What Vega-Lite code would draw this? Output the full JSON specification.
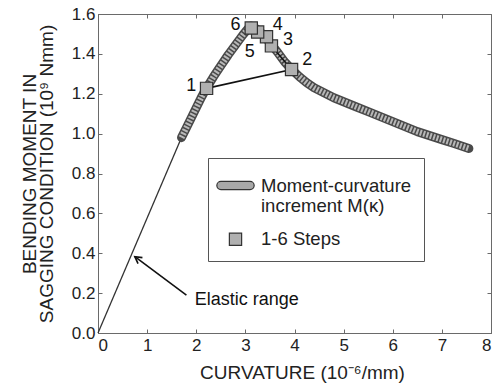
{
  "$schema": "https://vega.github.io/schema/vega-lite/v6.json",
  "width": 393,
  "height": 319,
  "autosize": {"type": "none"},
  "padding": {"left": 98, "top": 14, "right": 3, "bottom": 51},
  "background": "white",
  "config": {
    "font": "Liberation Sans",
    "view": {"stroke": "#6a6a6a", "strokeWidth": 1},
    "axis": {
      "grid": false,
      "domainColor": "#6a6a6a",
      "tickColor": "#6a6a6a",
      "labelColor": "#222",
      "titleColor": "#222",
      "labelFontSize": 17,
      "titleFontSize": 19,
      "titleFontWeight": "normal",
      "labelFont": "Liberation Sans",
      "titleFont": "Liberation Sans"
    },
    "legend": {
      "orient": "none",
      "legendX": 110,
      "legendY": 144,
      "strokeColor": "#555",
      "fillColor": "white",
      "padding": 12,
      "labelFontSize": 18.5,
      "labelFont": "Liberation Sans",
      "labelColor": "#222",
      "labelOffset": 10,
      "rowPadding": 14,
      "symbolStrokeWidth": 1.2
    }
  },
  "datasets": {
    "elastic": [{"k": 0, "m": 0}, {"k": 1.7, "m": 0.98}],
    "curve": [
      {"k": 1.70, "m": 0.98}, {"k": 1.80, "m": 1.03}, {"k": 1.90, "m": 1.08}, {"k": 2.00, "m": 1.13},
      {"k": 2.10, "m": 1.18}, {"k": 2.20, "m": 1.225}, {"k": 2.35, "m": 1.285}, {"k": 2.50, "m": 1.34},
      {"k": 2.65, "m": 1.395}, {"k": 2.80, "m": 1.445}, {"k": 2.95, "m": 1.495}, {"k": 3.05, "m": 1.525},
      {"k": 3.12, "m": 1.54}, {"k": 3.20, "m": 1.53}, {"k": 3.35, "m": 1.50}, {"k": 3.50, "m": 1.455},
      {"k": 3.65, "m": 1.41}, {"k": 3.80, "m": 1.36}, {"k": 3.95, "m": 1.32}, {"k": 4.10, "m": 1.285},
      {"k": 4.25, "m": 1.255}, {"k": 4.40, "m": 1.23}, {"k": 4.60, "m": 1.205}, {"k": 4.80, "m": 1.18},
      {"k": 5.00, "m": 1.16}, {"k": 5.25, "m": 1.135}, {"k": 5.50, "m": 1.11}, {"k": 5.75, "m": 1.085},
      {"k": 6.00, "m": 1.06}, {"k": 6.25, "m": 1.035}, {"k": 6.50, "m": 1.01}, {"k": 6.75, "m": 0.99},
      {"k": 7.00, "m": 0.97}, {"k": 7.25, "m": 0.95}, {"k": 7.55, "m": 0.925}
    ],
    "steps": [
      {"step": 1, "k": 2.21, "m": 1.227, "series": "steps"},
      {"step": 2, "k": 3.94, "m": 1.322, "series": "steps"},
      {"step": 3, "k": 3.53, "m": 1.44, "series": "steps"},
      {"step": 4, "k": 3.43, "m": 1.486, "series": "steps"},
      {"step": 5, "k": 3.25, "m": 1.51, "series": "steps"},
      {"step": 6, "k": 3.12, "m": 1.53, "series": "steps"}
    ],
    "labels": [
      {"txt": "1", "k": 1.90, "m": 1.24},
      {"txt": "2", "k": 4.26, "m": 1.37},
      {"txt": "3", "k": 3.87, "m": 1.47},
      {"txt": "4", "k": 3.66, "m": 1.545},
      {"txt": "5", "k": 3.09, "m": 1.41},
      {"txt": "6", "k": 2.80, "m": 1.545}
    ],
    "arrow": [{"k": 1.80, "m": 0.19}, {"k": 0.75, "m": 0.383}],
    "arrowtip": [{"k": 0.75, "m": 0.383}],
    "note": [{"txt": "Elastic range", "k": 1.97, "m": 0.165}]
  },
  "resolve": {"axis": {"x": "independent", "y": "independent"}},
  "layer": [
    {
      "data": {"name": "elastic"},
      "mark": {"type": "line", "color": "#333", "strokeWidth": 1.3},
      "encoding": {
        "x": {"field": "k", "type": "quantitative", "scale": {"domain": [0, 8], "nice": false},
              "axis": {"title": "CURVATURE (10⁻⁶/mm)", "values": [0,1,2,3,4,5,6,7,8], "format": "d", "tickSize": -4, "labelPadding": 8, "titleX": 204, "titleY": 45, "titleBaseline": "alphabetic"}},
        "y": {"field": "m", "type": "quantitative", "scale": {"domain": [0, 1.6], "nice": false},
              "axis": {"title": ["BENDING MOMENT IN", "SAGGING CONDITION (10⁹ Nmm)"], "values": [0,0.2,0.4,0.6,0.8,1.0,1.2,1.4,1.6], "format": ".1f", "tickSize": -4, "labelPadding": 7, "titlePadding": 15, "titleLineHeight": 17}}
      }
    },
    {
      "data": {"name": "elastic"},
      "mark": {"type": "line", "opacity": 0},
      "encoding": {
        "x": {"field": "k", "type": "quantitative", "axis": {"orient": "top", "labels": false, "domain": false, "title": null, "values": [0,1,2,3,4,5,6,7,8], "tickSize": -4}},
        "y": {"field": "m", "type": "quantitative", "axis": {"orient": "right", "labels": false, "domain": false, "title": null, "values": [0,0.2,0.4,0.6,0.8,1.0,1.2,1.4,1.6], "tickSize": -4}}
      }
    },
    {
      "data": {"name": "curve"},
      "mark": {"type": "line", "color": "#4a4a4a", "strokeWidth": 9, "strokeCap": "round", "strokeJoin": "round"},
      "encoding": {
        "x": {"field": "k", "type": "quantitative", "axis": null},
        "y": {"field": "m", "type": "quantitative", "axis": null}
      }
    },
    {
      "data": {"name": "curve"},
      "mark": {"type": "line", "color": "#b8b8b8", "strokeWidth": 6, "strokeDash": [2, 1.5], "strokeJoin": "round"},
      "encoding": {
        "x": {"field": "k", "type": "quantitative", "axis": null},
        "y": {"field": "m", "type": "quantitative", "axis": null}
      }
    },
    {
      "data": {"name": "steps"},
      "mark": {"type": "line", "color": "#111", "strokeWidth": 1.6},
      "encoding": {
        "x": {"field": "k", "type": "quantitative", "axis": null},
        "y": {"field": "m", "type": "quantitative", "axis": null},
        "order": {"field": "step"}
      }
    },
    {
      "data": {"name": "steps"},
      "mark": {"type": "point", "filled": true, "strokeWidth": 1.2, "opacity": 1},
      "encoding": {
        "x": {"field": "k", "type": "quantitative", "axis": null},
        "y": {"field": "m", "type": "quantitative", "axis": null},
        "fill": {"field": "series", "type": "nominal",
                 "scale": {"domain": ["mc", "steps"], "range": ["#a8a8a8", "#b0b0b0"]},
                 "legend": {"title": null, "labelExpr": "datum.value == 'mc' ? ['Moment-curvature', 'increment M(κ)'] : '1-6 Steps'"}},
        "stroke": {"field": "series", "type": "nominal",
                 "scale": {"domain": ["mc", "steps"], "range": ["#333333", "#333333"]},
                 "legend": {"title": null, "labelExpr": "datum.value == 'mc' ? ['Moment-curvature', 'increment M(κ)'] : '1-6 Steps'"}},
        "shape": {"field": "series", "type": "nominal",
                  "scale": {"domain": ["mc", "steps"], "range": ["M -1 -0.28 L 1 -0.28 A 0.28 0.28 0 0 1 1 0.28 L -1 0.28 A 0.28 0.28 0 0 1 -1 -0.28 Z", "square"]},
                  "legend": {"title": null, "labelExpr": "datum.value == 'mc' ? ['Moment-curvature', 'increment M(κ)'] : '1-6 Steps'"}},
        "size": {"field": "series", "type": "nominal",
                 "scale": {"domain": ["mc", "steps"], "range": [850, 150]},
                 "legend": {"title": null, "labelExpr": "datum.value == 'mc' ? ['Moment-curvature', 'increment M(κ)'] : '1-6 Steps'"}}
      }
    },
    {
      "data": {"name": "labels"},
      "mark": {"type": "text", "fontSize": 18, "color": "#111", "align": "center", "baseline": "middle"},
      "encoding": {
        "x": {"field": "k", "type": "quantitative", "axis": null},
        "y": {"field": "m", "type": "quantitative", "axis": null},
        "text": {"field": "txt"}
      }
    },
    {
      "data": {"name": "arrow"},
      "mark": {"type": "line", "color": "#111", "strokeWidth": 1.6},
      "encoding": {
        "x": {"field": "k", "type": "quantitative", "axis": null},
        "y": {"field": "m", "type": "quantitative", "axis": null}
      }
    },
    {
      "data": {"name": "arrowtip"},
      "mark": {"type": "point", "filled": false, "stroke": "#111", "strokeWidth": 1.6, "opacity": 1,
               "shape": "M -0.55 1 L 0 0 L 0.55 1", "size": 180, "angle": 306.5},
      "encoding": {
        "x": {"field": "k", "type": "quantitative", "axis": null},
        "y": {"field": "m", "type": "quantitative", "axis": null}
      }
    },
    {
      "data": {"name": "note"},
      "mark": {"type": "text", "fontSize": 18, "color": "#111", "align": "left", "baseline": "middle"},
      "encoding": {
        "x": {"field": "k", "type": "quantitative", "axis": null},
        "y": {"field": "m", "type": "quantitative", "axis": null},
        "text": {"field": "txt"}
      }
    }
  ]
}
